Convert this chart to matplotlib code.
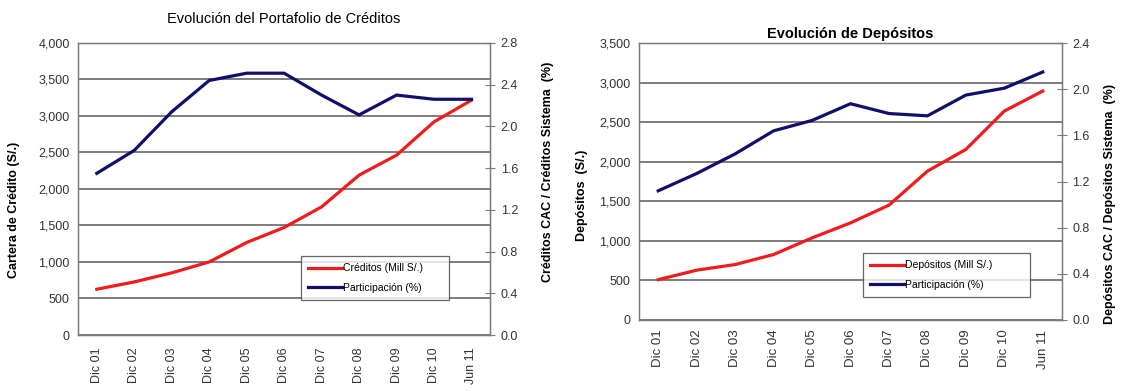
import numpy as np
import matplotlib.pyplot as plt

plt.rcParams['font.family'] = ['Liberation Sans', 'DejaVu Sans']

CATS = ['Dic 01', 'Dic 02', 'Dic 03', 'Dic 04', 'Dic 05', 'Dic 06',
        'Dic 07', 'Dic 08', 'Dic 09', 'Dic 10', 'Jun 11']

# creditos (mill S/.) y participacion (%)
creditos = [627, 727, 851, 1001, 1267, 1472, 1755, 2189, 2463, 2919, 3216]
part_cred = [1.55, 1.77, 2.14, 2.44, 2.51, 2.51, 2.30, 2.11, 2.30, 2.26, 2.26]

# depositos (mill S/.) y participacion (%)
depositos = [510, 630, 701, 828, 1038, 1228, 1452, 1882, 2157, 2642, 2895]
part_dep = [1.12, 1.27, 1.44, 1.64, 1.73, 1.875, 1.79, 1.77, 1.95, 2.01, 2.15]

RED = '#f01c1c'
BLUE = '#10106c'
GRAY = '#7a7a7a'


def panel(ax, y1, y2, ymax1, ymax2, title, lab1, lab2, leglab, legbox,
          tpad, tweight, xfs, xpad):
    x = np.arange(len(CATS))
    l1, = ax.plot(x, y1, color=RED, lw=2.3, solid_joinstyle='miter')
    ax.set_xlim(-0.5, len(CATS) - 0.5)
    ax.set_ylim(0, ymax1)
    ax.set_yticks(np.arange(0, ymax1 + 1, 500))
    ax.set_yticklabels(['{:,}'.format(v) for v in range(0, ymax1 + 1, 500)])
    ax.set_xticks(x)
    ax.set_xticklabels(CATS, rotation=90, fontsize=xfs, color='#333333')
    ax.tick_params(axis='x', length=0, pad=xpad)
    ax.tick_params(axis='y', length=0, labelsize=9, colors='#333333', pad=6)
    ax.grid(axis='y', color='#5a5a5a', lw=1.1)
    ax.set_axisbelow(True)
    for s in ax.spines.values():
        s.set_color(GRAY)
        s.set_linewidth(1.0)
    ax.set_title(title, fontsize=10.5, pad=tpad, weight=tweight)
    ax.set_ylabel(lab1, fontsize=9, weight='bold')

    ax2 = ax.twinx()
    l2, = ax2.plot(x, y2, color=BLUE, lw=2.3, solid_joinstyle='miter')
    ax2.set_ylim(0, ymax2)
    ax2.set_yticks(np.arange(0, ymax2 + 0.01, 0.4))
    ax2.set_yticklabels(['{:.1f}'.format(v) for v in np.arange(0, ymax2 + 0.01, 0.4)])
    ax2.tick_params(axis='y', direction='inout', length=7, color=GRAY,
                    labelsize=9, labelcolor='#333333', pad=4)
    for s in ax2.spines.values():
        s.set_color(GRAY)
    ax2.set_ylabel(lab2, fontsize=9, weight='bold')

    leg = ax.legend([l1, l2], leglab, loc='lower left', bbox_to_anchor=legbox,
                    mode='expand', fontsize=7.5, frameon=True, fancybox=False,
                    handlelength=3.2, handletextpad=0.1, borderpad=0.7,
                    labelspacing=0.9, borderaxespad=0)
    leg.get_frame().set_edgecolor('#404040')
    leg.get_frame().set_linewidth(0.9)
    leg.set_zorder(5)
    return ax2


fig = plt.figure(figsize=(11.23, 3.91), dpi=100)

axL = fig.add_axes([0.0695, 0.1432, 0.367, 0.747])
axL2 = panel(axL, creditos, part_cred, 4000, 2.8,
             'Evolución del Portafolio de Créditos',
             'Cartera de Crédito (S/.)',
             'Créditos CAC / Créditos Sistema  (%)',
             ['Créditos (Mill S/.)', 'Participación (%)'],
             (0.541, 0.12, 0.359, 0.178), 14, 'normal', 9, 9)
axL.yaxis.set_label_coords(-0.14, 0.43)
axL2.yaxis.set_label_coords(1.125, 0.56)

axR = fig.add_axes([0.569, 0.1816, 0.3767, 0.708])
axR2 = panel(axR, depositos, part_dep, 3500, 2.4,
             'Evolución de Depósitos',
             'Depósitos  (S/.)',
             'Depósitos CAC / Depósitos Sistema  (%)',
             ['Depósitos (Mill S/.)', 'Participación (%)'],
             (0.53, 0.083, 0.394, 0.162), 4, 'bold', 9.5, 7)
axR.yaxis.set_label_coords(-0.12, 0.45)
axR2.yaxis.set_label_coords(1.10, 0.42)

fig.savefig('out.png', dpi=100)
